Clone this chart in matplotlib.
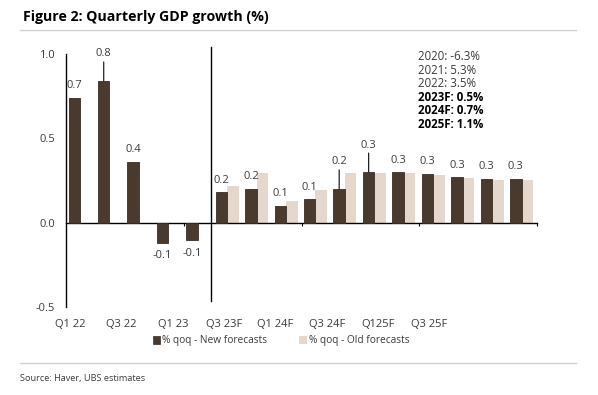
import numpy as np
import matplotlib
matplotlib.use('Agg')
import matplotlib.pyplot as plt
from matplotlib.patches import Patch
from matplotlib.ticker import FormatStrFormatter

plt.rcParams['font.family'] = ['Open Sans', 'DejaVu Sans']
plt.rcParams['axes.unicode_minus'] = False

# Quarterly GDP growth, % qoq
quarters = ['Q1 22', 'Q2 22', 'Q3 22', 'Q4 22', 'Q1 23', 'Q2 23', 'Q3 23F', 'Q4 23F',
            'Q1 24F', 'Q2 24F', 'Q3 24F', 'Q4 24F', 'Q1 25F', 'Q2 25F', 'Q3 25F', 'Q4 25F']
new_fc = [0.74, 0.84, 0.36, -0.12, -0.105, 0.18, 0.20, 0.10,
          0.14, 0.20, 0.30, 0.30, 0.29, 0.27, 0.26, 0.26]
old_fc = [np.nan, np.nan, np.nan, np.nan, np.nan, 0.215, 0.295, 0.13,
          0.195, 0.295, 0.295, 0.295, 0.285, 0.265, 0.255, 0.255]
tick_labels = ['Q1 22', 'Q3 22', 'Q1 23', 'Q3 23F', 'Q1 24F', 'Q3 24F', 'Q125F', 'Q3 25F']
annual = [('2020: -6.3%', 'normal'), ('2021: 5.3%', 'normal'), ('2022: 3.5%', 'normal'),
          ('2023F: 0.5%', 'bold'), ('2024F: 0.7%', 'bold'), ('2025F: 1.1%', 'bold')]

new_color = '#4a3a2e'
old_color = '#e5d7cb'
text_color = '#3a3a3a'
fs = 8

# bars whose labels sit higher with a leader line
leader_bars = [1, 9, 10]

fig = plt.figure(figsize=(5.98, 3.95), dpi=100)
ax = fig.add_axes([0.1104, 0.2228, 0.7876, 0.6405])

x = np.arange(len(quarters))
w = 0.39
ax.bar(x - 0.22, new_fc, w, color=new_color, edgecolor='#3a2c22', linewidth=0.6, zorder=3)
ax.bar(x + 0.17, old_fc, w, color=old_color, linewidth=0, zorder=2)

for i, v in enumerate(new_fc):
    xi = x[i] - 0.22
    if i in leader_bars:
        ax.annotate('', xy=(xi, v), xytext=(0, 19), textcoords='offset pixels',
                    arrowprops=dict(arrowstyle='-', color='#222222', lw=0.9,
                                    shrinkA=0, shrinkB=0))
        off = 27
    else:
        off = 12 if v >= 0 else -13
    ax.annotate(f'{v:.1f}', xy=(xi, v), xytext=(0, off), textcoords='offset pixels',
                ha='center', va='center', fontsize=fs, color=text_color)

ax.set_xlim(-0.5, len(quarters) - 0.5)
ax.set_ylim(-0.5, 1.0)
ax.set_yticks([-0.5, 0.0, 0.5, 1.0])
ax.yaxis.set_major_formatter(FormatStrFormatter('%.1f'))
ax.tick_params(axis='y', length=0, pad=8, labelsize=fs, labelcolor=text_color)

ax.spines['top'].set_visible(False)
ax.spines['right'].set_visible(False)
ax.spines['left'].set_linewidth(1.0)
ax.spines['bottom'].set_position(('data', 0))
ax.spines['bottom'].set_linewidth(1.0)
ax.set_xticks([])
ax.set_xticks([3.5, 7.5, 11.5, 15.5], minor=True)
ax.tick_params(axis='x', which='minor', length=2.5, width=0.8, direction='out')

# category labels along the bottom edge (spread as in the original)
label_x = np.linspace(-0.36, 11.85, len(tick_labels))
for lx, lab in zip(label_x, tick_labels):
    ax.text(lx, -0.07, lab, transform=ax.get_xaxis_transform(), ha='center', va='center',
            fontsize=fs, color=text_color, clip_on=False)

# divider between actuals and forecasts
ax.axvline(4.43, ymin=0.024, ymax=1.027, color='black', lw=1.0, clip_on=False, zorder=4)

# annual growth box
for k, (txt, wt) in enumerate(annual):
    fig.text(0.699, 1 - (57 + k * 13.4) / 395, txt, fontsize=8.3, fontweight=wt,
             color='black' if wt == 'bold' else text_color, va='center', ha='left')

fig.text(23 / 598, 1 - 17 / 395, 'Figure 2: Quarterly GDP growth (%)', fontsize=10.2,
         fontweight='bold', va='center', ha='left', color='black')
fig.add_artist(plt.Line2D([20 / 598, 576 / 598], [1 - 30 / 395] * 2, color='#cfcfcf', lw=1.0))
fig.add_artist(plt.Line2D([20 / 598, 576 / 598], [1 - 363 / 395] * 2, color='#cfcfcf', lw=1.0))
fig.text(20 / 598, 1 - 378 / 395, 'Source: Haver, UBS estimates', fontsize=6.6,
         va='center', ha='left', color=text_color)

handles = [Patch(facecolor=new_color, edgecolor='#3a2c22', linewidth=0.5),
           Patch(facecolor=old_color, edgecolor='none')]
fig.legend(handles, ['% qoq - New forecasts', '% qoq - Old forecasts'],
           loc='center', bbox_to_anchor=(281 / 598, 1 - 341 / 395), ncol=2,
           frameon=False, fontsize=7.3, handlelength=0.75, handleheight=0.75,
           handletextpad=0.15, columnspacing=3.2, labelcolor=text_color)

fig.savefig('out.png', dpi=100)
